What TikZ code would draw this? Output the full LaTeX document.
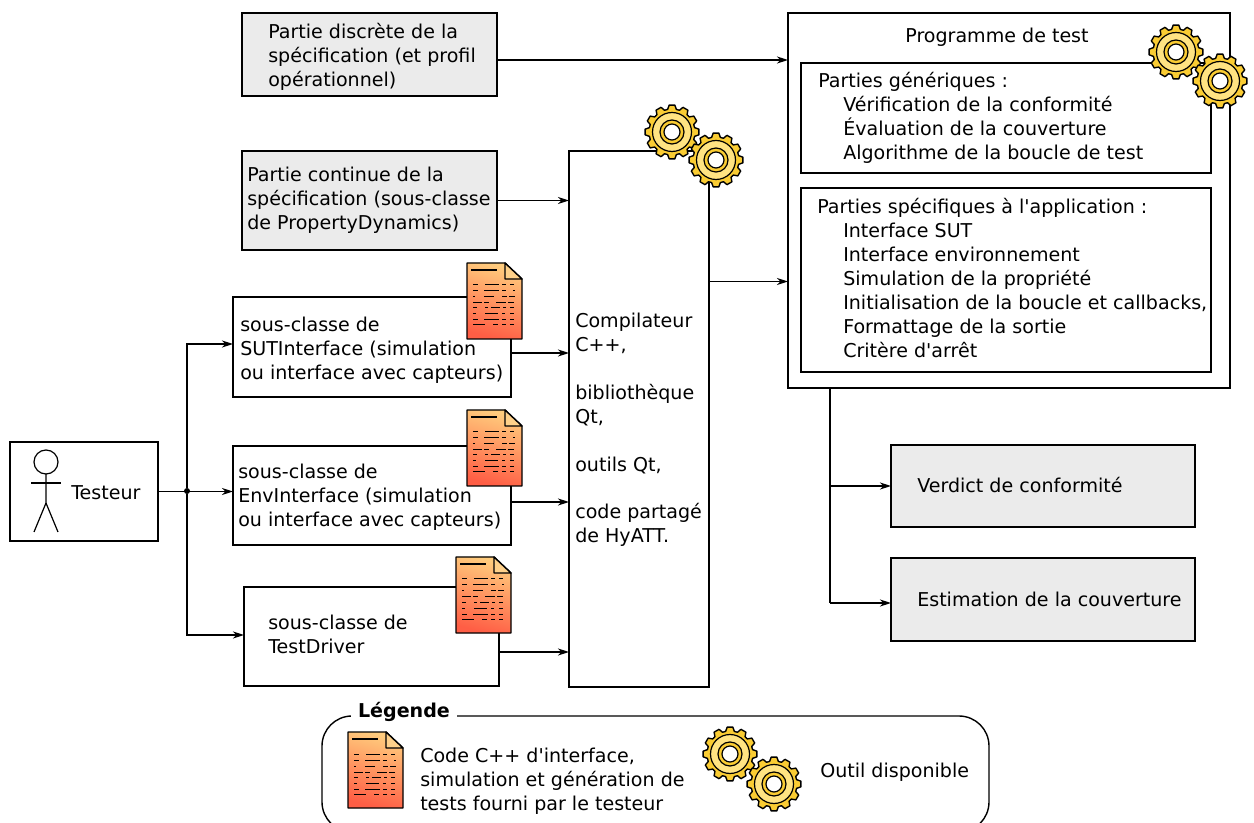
\documentclass[tikz,border=0pt]{standalone}
\usepackage{fontspec}
\setmainfont{DejaVu Sans}
\usetikzlibrary{arrows.meta}
\newlength{\du}
\setlength{\du}{0.75pt}
\definecolor{specgray}{rgb}{0.922, 0.922, 0.922}
\definecolor{gearouter}{rgb}{0.980, 0.800, 0.200}
\definecolor{gearlight}{rgb}{1.000, 0.890, 0.510}
\definecolor{doctop}{rgb}{1.000, 0.800, 0.490}
\definecolor{docbottom}{rgb}{1.000, 0.370, 0.270}
\definecolor{docfold}{rgb}{1.000, 0.820, 0.540}
\tikzset{
  conn/.style={draw=black, line width=1.4\du, -{Stealth[length=8.25pt,width=5.25pt,inset=2.6pt]}},
  plain/.style={draw=black, line width=1.4\du},
  box/.style={draw=black, line width=1.4\du, fill=white, inner sep=0pt, outer sep=0pt},
  graybox/.style={box, fill=specgray},
  txt/.style={anchor=west, inner sep=0pt, align=left, font=\fontsize{14.3}{17.9}\selectfont},
  pics/gear/.style={code={
    \draw[fill=gearouter, line width=1.4\du, line join=round]
      (-11:23\du) \foreach \a in {0,30,...,330} {
        -- (\a-11:23\du) -- (\a-6:27\du) -- (\a+6:27\du) -- (\a+11:23\du)
      } -- cycle;
    \draw[fill=gearlight, line width=1.2\du] (0,0) circle (19.5\du);
    \draw[fill=gearouter, line width=1.2\du] (0,0) circle (12\du);
    \draw[fill=white, line width=1.2\du] (0,0) circle (8\du);
  }},
  pics/codedoc/.style={code={
    \begin{scope}[yscale=-1]
    \draw[top color=doctop, bottom color=docbottom, shading angle=-15, line width=1.4\du, line join=round]
      (0,0) -- (38\du,0) -- (55\du,16\du) -- (55\du,76\du) -- (0,76\du) -- cycle;
    \draw[fill=docfold, line width=1.4\du, line join=round]
      (38\du,0) -- (38\du,16\du) -- (55\du,16\du) -- cycle;
    \draw[line width=1.1\du] (4\du,7\du) -- (30\du,7\du);
    \foreach \rowy/\dashes in {
      22/{6/11,18/32,35/39,43/47},
      28/{6/11,17/32,35/39,46/48},
      34/{6/8,17/27,35/40,42/48},
      40/{6/15,17/22,29/39,41/47},
      45/{6/10,18/21,24/33,36/39,43/47},
      51/{6/9,18/31,35/38,43/47},
      57/{6/11,17/32,35/39,43/47},
      62/{6/18,26/31,35/39,43/47}} {
      \foreach \xa/\xb in \dashes {
        \draw[line width=1\du] (\xa\du,\rowy\du) -- (\xb\du,\rowy\du);
      }
    }
    \end{scope}
  }}
}

\begin{document}
\begin{tikzpicture}
\pgftransformxscale{1.000000}
\pgftransformyscale{-1.000000}
\useasboundingbox (0\du,0\du) rectangle (1254\du,823\du);

% boxes
\node[graybox, minimum width=255\du, minimum height=83\du] (spec1) at (369.5\du,54.5\du) {};
\node[graybox, minimum width=255\du, minimum height=99\du] (spec2) at (369.5\du,200.5\du) {};
\node[box, minimum width=278\du, minimum height=100\du] (sut) at (372\du,347\du) {};
\node[box, minimum width=278\du, minimum height=99\du] (env) at (372\du,495.5\du) {};
\node[box, minimum width=255\du, minimum height=99\du] (driver) at (371.5\du,636.5\du) {};
\node[box, minimum width=140\du, minimum height=536\du] (compil) at (639\du,419\du) {};
\node[box, minimum width=442\du, minimum height=375\du] (prog) at (1009\du,200.5\du) {};
\node[box, minimum width=410\du, minimum height=110\du] (generic) at (1006\du,118\du) {};
\node[box, minimum width=410\du, minimum height=184\du] (specific) at (1006\du,280\du) {};
\node[graybox, minimum width=304\du, minimum height=82\du] (verdict) at (1043\du,486\du) {};
\node[graybox, minimum width=304\du, minimum height=83\du] (estim) at (1043\du,599.5\du) {};
\node[box, minimum width=148\du, minimum height=99\du] (testeur) at (84\du,491.5\du) {};
\node[box, rounded corners=30\du, minimum width=667\du, minimum height=116\du] (legend) at (655.5\du,774\du) {};
\node[fill=white, inner xsep=7\du, inner ysep=0pt, font=\fontsize{14.3}{17}\selectfont\bfseries] (legendtitle) at (404\du,712\du) {Légende};

% texts
\node[txt] (spec1txt) at (268\du,57\du) {Partie discrète de la\\spécification (et profil\\opérationnel)};
\node[txt] (spec2txt) at (247\du,200\du) {Partie continue de la\\spécification (sous-classe\\de PropertyDynamics)};
\node[txt] (suttxt) at (240\du,350.5\du) {sous-classe de\\SUTInterface (simulation\\ou interface avec capteurs)};
\node[txt] (envtxt) at (238\du,497\du) {sous-classe de\\EnvInterface (simulation\\ou interface avec capteurs)};
\node[txt] (drivertxt) at (268\du,634\du) {sous-classe de\\TestDriver};
\node[txt] (compiltxt) at (575\du,430\du) {Compilateur\\C++,\\[17.9pt]bibliothèque\\Qt,\\[17.9pt]outils Qt,\\[17.9pt]code partagé\\de HyATT.};
\node[txt, anchor=center] (progtxt) at (997\du,37\du) {Programme de test};
\node[txt] (generictxt) at (818\du,118\du) {Parties génériques :\\\hspace*{25\du}Vérification de la conformité\\\hspace*{25\du}Évaluation de la couverture\\\hspace*{25\du}Algorithme de la boucle de test};
\node[txt] (specifictxt) at (817\du,278\du) {Parties spécifiques à l\textquotesingle application :\\\hspace*{26\du}Interface SUT\\\hspace*{26\du}Interface environnement\\\hspace*{26\du}Simulation de la propriété\\\hspace*{26\du}Initialisation de la boucle et callbacks,\\\hspace*{26\du}Formattage de la sortie\\\hspace*{26\du}Critère d\textquotesingle arrêt};
\node[txt] (verdicttxt) at (917\du,485\du) {Verdict de conformité};
\node[txt] (estimtxt) at (917\du,599\du) {Estimation de la couverture};
\node[txt] (testeurtxt) at (71\du,493\du) {Testeur};
\node[txt] (legendcode) at (420\du,781\du) {Code C++ d\textquotesingle interface,\\simulation et génération de\\tests fourni par le testeur};
\node[txt] (legendtool) at (820\du,772\du) {Outil disponible};

% connectors
\node[fill=black, circle, minimum size=6\du, inner sep=0pt] (junction) at (187\du,491\du) {};
\coordinate (busbottom) at (830\du,603\du);
\draw[conn] ([yshift=5.5\du]spec1.east) -- ([yshift=5.5\du]prog.west |- spec1.east);
\draw[conn] (spec2.east) -- (compil.west |- spec2.east);
\draw[conn] ([yshift=6\du]sut.east) -- ([yshift=6\du]compil.west |- sut.east);
\draw[conn] ([yshift=6.5\du]env.east) -- ([yshift=6.5\du]compil.west |- env.east);
\draw[conn] ([yshift=15.5\du]driver.east) -- ([yshift=15.5\du]compil.west |- driver.east);
\draw[conn] ([yshift=81\du]prog.west -| compil.east) -- ([yshift=81\du]prog.west);
\draw[conn] (testeur.east) -- (env.west |- testeur.east);
\draw[conn] (junction) |- ([yshift=-3\du]sut.west);
\draw[conn] (junction) |- ([yshift=-1.5\du]driver.west);
\draw[plain] (prog.south -| busbottom) -- (busbottom);
\draw[conn] (busbottom |- verdict.west) -- (verdict.west);
\draw[conn] (busbottom) -- ([yshift=3.5\du]estim.west);

% stick figure
\draw[line width=1.2\du] (46\du,462\du) circle (12\du);
\draw[line width=1.2\du] (46\du,474\du) -- (46\du,503\du) -- (34\du,532\du);
\draw[line width=1.2\du] (46\du,503\du) -- (58\du,532\du);
\draw[line width=1.2\du] (31\du,483\du) -- (61\du,483\du);

% icons
\pic at (467\du,263\du) {codedoc};
\pic at (467\du,410\du) {codedoc};
\pic at (456\du,557\du) {codedoc};
\pic at (348\du,732\du) {codedoc};
\pic at (672\du,132\du) {gear};
\pic at (716\du,160\du) {gear};
\pic at (1176\du,52\du) {gear};
\pic at (1220\du,81\du) {gear};
\pic at (730\du,754\du) {gear};
\pic at (774\du,784\du) {gear};
\end{tikzpicture}
\end{document}
